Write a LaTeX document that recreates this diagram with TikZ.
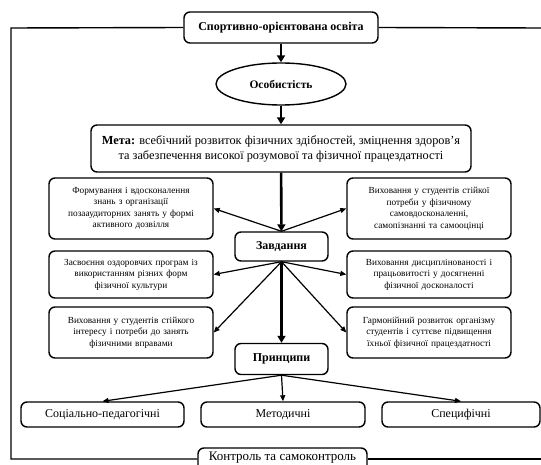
\documentclass[tikz,border=0pt]{standalone}
\usepackage{fontspec}
\setmainfont{Liberation Serif}
\usetikzlibrary{arrows.meta,shapes.geometric}
\tikzset{
  box/.style={draw, line width=1.4pt, rounded corners=6pt, inner sep=0pt, align=center, fill=white},
  smallbox/.style={box, minimum width=164pt, text width=158pt, font=\fontsize{9.3}{11.5}\selectfont},
  bigarrow/.style={line width=2.6pt, -{Triangle[length=7pt,width=8pt]}},
  thinarrow/.style={line width=1.2pt, -{Triangle[length=6pt,width=5pt]}},
  framel/.style={line width=1.4pt}
}
\begin{document}
\begin{tikzpicture}[x=1pt,y=-1pt]
\useasboundingbox (0,0) rectangle (541,465);
\node[box, minimum width=194pt, minimum height=31pt, font=\fontsize{12}{14}\selectfont\bfseries] (top) at (281,27.5) {Спортивно-орієнтована освіта};
\node[draw, ellipse, line width=1.4pt, minimum width=130pt, minimum height=42pt, inner sep=0pt, font=\fontsize{11.5}{13}\selectfont\bfseries] (ell) at (281,84) {Особистість};
\node[box, minimum width=380pt, minimum height=47pt, font=\fontsize{12.3}{15}\selectfont] (meta) at (281,148.5) {\textbf{Мета:} всебічний розвиток фізичних здібностей, зміцнення здоров’я\\та забезпечення високої розумової та фізичної працездатності};
\node[smallbox, minimum height=61pt] (L1) at (131,208.5) {Формування і вдосконалення\\знань з організації\\позааудиторних занять у формі\\активного дозвілля};
\node[smallbox, minimum height=61pt] (R1) at (429,208.5) {Виховання у студентів стійкої\\потреби у фізичному\\самовдосконаленні,\\самопізнанні та самооцінці};
\node[box, minimum width=93pt, minimum height=29pt, font=\fontsize{12}{14}\selectfont\bfseries] (zad) at (281.5,246.5) {Завдання};
\node[smallbox, minimum height=47pt] (L2) at (131,274.5) {Засвоєння оздоровчих програм із\\використанням різних форм\\фізичної культури};
\node[smallbox, minimum height=47pt] (R2) at (429,274.5) {Виховання дисциплінованості і\\працьовитості у досягненні\\фізичної досконалості};
\node[smallbox, minimum height=51pt] (L3) at (131,332.5) {Виховання у студентів стійкого\\інтересу і потреби до занять\\фізичними вправами};
\node[smallbox, minimum height=51pt] (R3) at (429,332.5) {Гармонійний розвиток організму\\студентів і суттєве підвищення\\їхньої фізичної працездатності};
\node[box, minimum width=93pt, minimum height=31pt, font=\fontsize{12}{14}\selectfont\bfseries] (pr) at (281.5,359) {Принципи};
\node[box, minimum width=163pt, minimum height=25pt, font=\fontsize{12}{14}\selectfont] (B1) at (102.5,414.5) {Соціально-педагогічні};
\node[box, minimum width=164pt, minimum height=25pt, font=\fontsize{12}{14}\selectfont] (B2) at (283,414.5) {Методичні};
\node[box, minimum width=158pt, minimum height=25pt, font=\fontsize{12}{14}\selectfont] (B3) at (461,414.5) {Специфічні};
\node[box, minimum width=169pt, minimum height=26pt] (ctl) at (282.5,461) {};
\node[inner sep=0pt, font=\fontsize{13}{15}\selectfont] (ctltext) at (282.5,457.5) {Контроль та самоконтроль};
% frame
\coordinate (ftl) at (11,28);
\coordinate (ftr) at (541,28);
\coordinate (fbl) at (11,459);
\coordinate (fbr) at (541,459);
\draw[framel] (top.west) -- (ftl) -- (fbl) -- (ctl.west |- fbl);
\draw[framel] (top.east) -- (ftr);
\draw[framel] (ctl.east |- fbr) -- (fbr);
% arrows
\draw[bigarrow] (top) -- (ell);
\draw[bigarrow] (ell) -- (meta);
\draw[bigarrow] (meta) -- (zad);
\draw[bigarrow] (zad) -- (pr);
\draw[thinarrow] (zad.north) -- (L1.east);
\draw[thinarrow] (zad.north) -- (R1.west);
\draw[thinarrow] (zad.south) -- (L2.east);
\draw[thinarrow] (zad.south) -- (R2.west);
\draw[thinarrow] (zad.south) -- (L3.east);
\draw[thinarrow] (zad.south) -- (R3.west);
\draw[thinarrow] (pr.south) -- (B1.north);
\draw[thinarrow] (pr.south) -- (B2.north);
\draw[thinarrow] (pr.south) -- (B3.north);
\end{tikzpicture}
\end{document}
